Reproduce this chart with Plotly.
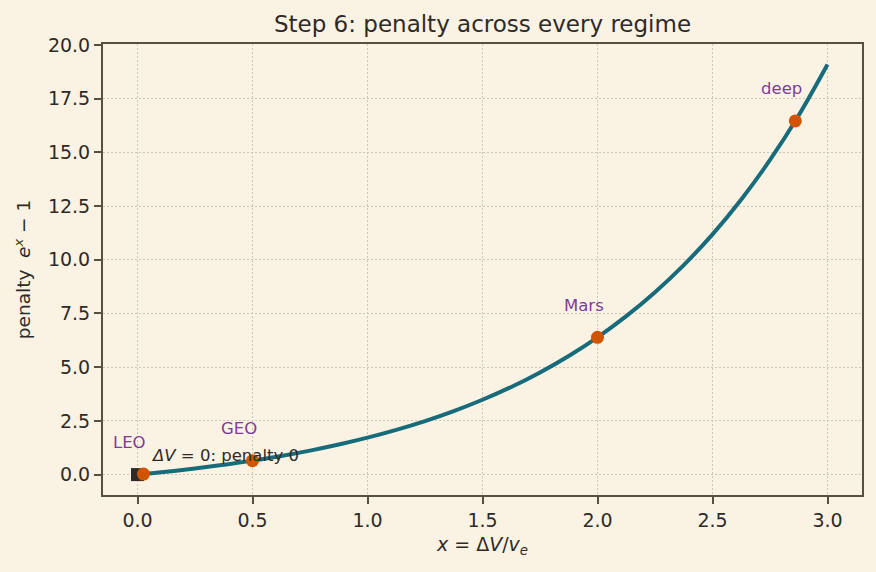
import plotly.graph_objects as go

# curve samples of penalty e^x - 1
curve_x = [0.0, 0.125, 0.25, 0.375, 0.5, 0.625, 0.75, 0.875, 1.0, 1.125, 1.25, 1.375, 1.5,
           1.625, 1.75, 1.875, 2.0, 2.125, 2.25, 2.375, 2.5, 2.625, 2.75, 2.875, 3.0]
curve_y = [0.0, 0.133, 0.284, 0.455, 0.649, 0.868, 1.117, 1.399, 1.718, 2.080, 2.490, 2.955, 3.482,
           4.078, 4.755, 5.521, 6.389, 7.373, 8.488, 9.751, 11.182, 12.804, 14.643, 16.725, 19.086]

regimes = ["LEO", "GEO", "Mars", "deep"]
regime_x = [0.026, 0.5, 2.0, 2.86]
regime_y = [0.026, 0.649, 6.389, 16.46]

zero_x = [0.0]
zero_y = [0.0]

BG = "#faf3e3"
INK = "#2e2a28"
AXIS = "#5a4e42"
GRID = "#cfc6b4"

fig = go.Figure()
fig.add_trace(go.Scatter(x=curve_x, y=curve_y, mode="lines", line=dict(color="#176b7a", width=4, shape="spline"),
                         showlegend=False, hoverinfo="skip"))
fig.add_trace(go.Scatter(x=zero_x, y=zero_y, mode="markers",
                         marker=dict(symbol="square", size=13, color=INK), showlegend=False))
fig.add_trace(go.Scatter(x=regime_x, y=regime_y, mode="markers",
                         marker=dict(size=13, color="#d35400"), showlegend=False))

for name, xv, yv in zip(regimes, regime_x, regime_y):
    fig.add_annotation(x=xv, y=yv, text=name, showarrow=False, xref="x", yref="y",
                       xshift=-14, yshift=32, font=dict(size=16.5, color="#7d3c98",
                                                        family="DejaVu Sans"))

fig.add_annotation(x=zero_x[0], y=zero_y[0], text="<i>ΔV</i> = 0: penalty 0", showarrow=False,
                   xref="x", yref="y", xanchor="left", xshift=11, yshift=19,
                   font=dict(size=16.5, color=INK, family="DejaVu Sans"))

axis_common = dict(showline=True, linecolor=AXIS, linewidth=2, mirror=True,
                   ticks="outside", ticklen=7, tickwidth=2, tickcolor=AXIS,
                   showgrid=True, gridcolor=GRID, griddash="2px,2px", gridwidth=1.3,
                   zeroline=False, tickfont=dict(size=19, color=INK, family="DejaVu Sans"))

fig.update_xaxes(range=[-0.15, 3.15], tickvals=[0, 0.5, 1, 1.5, 2, 2.5, 3],
                 ticktext=["0.0", "0.5", "1.0", "1.5", "2.0", "2.5", "3.0"],
                 title=dict(text="<i>x</i> = Δ<i>V</i>/<i>v</i><sub><i>e</i></sub>", standoff=8,
                            font=dict(size=19, color=INK, family="DejaVu Sans")),
                 **axis_common)
fig.update_yaxes(range=[-0.95, 20.04], tickvals=[0, 2.5, 5, 7.5, 10, 12.5, 15, 17.5, 20],
                 ticktext=["0.0", "2.5", "5.0", "7.5", "10.0", "12.5", "15.0", "17.5", "20.0"],
                 title=dict(text="penalty  <i>e</i><sup><i>x</i></sup> − 1", standoff=12,
                            font=dict(size=18.5, color=INK, family="DejaVu Sans")),
                 **axis_common)

fig.update_layout(
    width=876, height=572,
    paper_bgcolor=BG, plot_bgcolor=BG,
    margin=dict(l=103, r=14, t=44, b=77),
    title=dict(text="Step 6: penalty across every regime", x=0.5, xref="paper", xanchor="center",
               y=0.958, yanchor="middle",
               font=dict(size=23, color=INK, family="DejaVu Sans")),
    font=dict(family="DejaVu Sans", color=INK),
)

fig.write_html("out.html")
